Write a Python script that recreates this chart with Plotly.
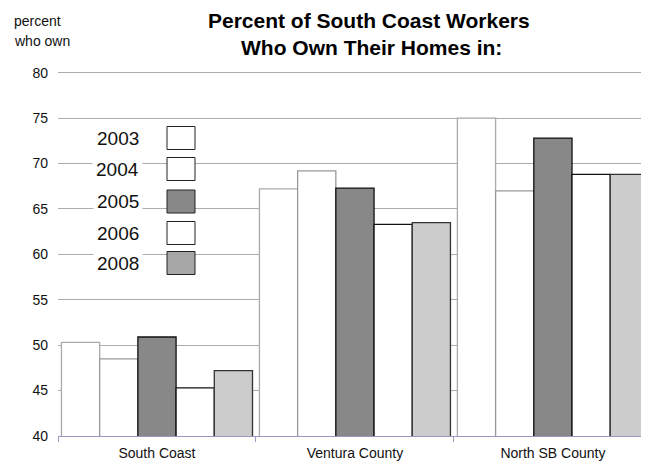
import plotly.graph_objects as go

# Data
regions = ["South Coast", "Ventura County", "North SB County"]
years = ["2003", "2004", "2005", "2006", "2008"]
pct_2003 = [50.3, 67.2, 75.0]
pct_2004 = [48.5, 69.2, 67.0]
pct_2005 = [50.9, 67.3, 72.8]
pct_2006 = [45.3, 63.3, 68.8]
pct_2008 = [47.2, 63.5, 68.8]
y_ticks = [40, 45, 50, 55, 60, 65, 70, 75, 80]

series = [pct_2003, pct_2004, pct_2005, pct_2006, pct_2008]
bar_fill = ["#ffffff", "#ffffff", "#888888", "#ffffff", "#cccccc"]
bar_edge = ["#aaaaaa", "#999999", "#111111", "#111111", "#333333"]
key_fill = ["#ffffff", "#ffffff", "#888888", "#ffffff", "#a6a6a6"]

W, H = 651, 464
# y range is padded a little above 80 so the top grid line is drawn inside the plot
Y_MIN, Y_MAX = 40, 80.3
PX_PER_UNIT = 363 / 40.0
L, R, B = 58, 10, 28
T = round(73 - (Y_MAX - 80) * PX_PER_UNIT)
PW, PH = W - L - R, H - T - B

NARROW = "Liberation Sans Narrow, Arial Narrow, Liberation Sans, Arial, sans-serif"
PLAIN = "Liberation Sans, Arial, sans-serif"


def px_x(px):
    """Page pixel column -> plot-area paper fraction."""
    return (px - L) / PW


def px_y(py):
    """Page pixel row -> plot-area paper fraction."""
    return (H - B - py) / PH


fig = go.Figure()
for yr, vals, fc, lc in zip(years, series, bar_fill, bar_edge):
    fig.add_trace(go.Bar(
        x=regions, y=vals, name=yr,
        marker=dict(color=fc, line=dict(color=lc, width=1.3)),
        showlegend=False,
    ))

fig.update_layout(
    template="none",
    width=W, height=H,
    margin=dict(l=L, r=R, t=T, b=B, autoexpand=False),
    paper_bgcolor="white", plot_bgcolor="white",
    barmode="group", bargap=0.035, bargroupgap=0,
    font=dict(family=NARROW, color="#111111", size=13),
    xaxis=dict(
        type="category", range=[-0.5, 2.445], automargin=False,
        showgrid=False, showline=True, linecolor="#9a9ac4", linewidth=1,
        ticks="outside", tickson="boundaries", ticklen=5, tickcolor="#9a9ac4",
        ticklabelstandoff=4,
        tickfont=dict(family=NARROW, size=14, color="#111111"),
        zeroline=False,
    ),
    yaxis=dict(
        range=[Y_MIN, Y_MAX], tickvals=y_ticks, automargin=False,
        showgrid=True, gridcolor="#acacac", gridwidth=1,
        showline=False, zeroline=False, ticks="",
        ticklabelstandoff=9,
        tickfont=dict(family=NARROW, size=14, color="#111111"),
    ),
)

annotations = [
    dict(text="<b>Percent of South Coast Workers</b>", x=px_x(369), y=px_y(20),
         xanchor="center", font=dict(family=NARROW, size=21, color="#000000")),
    dict(text="<b>Who Own Their Homes in:</b>", x=px_x(372), y=px_y(48),
         xanchor="center", font=dict(family=NARROW, size=21, color="#000000")),
    dict(text="percent", x=px_x(12), y=px_y(21), xanchor="left",
         font=dict(family=NARROW, size=14, color="#111111")),
    dict(text="who own", x=px_x(12), y=px_y(41), xanchor="left",
         font=dict(family=NARROW, size=14, color="#111111")),
]
for a in annotations:
    a.update(xref="paper", yref="paper", showarrow=False, yanchor="middle")

# Key: year labels on the left, colour boxes on the right
shapes = []
row_y = [138, 169, 201.5, 233, 263]
for yr, fc, cy in zip(years, key_fill, row_y):
    annotations.append(dict(
        text=yr, xref="paper", yref="paper", showarrow=False,
        x=px_x(143), y=px_y(cy), xanchor="right", yanchor="middle",
        font=dict(family=PLAIN, size=19, color="#111111"),
        bgcolor="white", borderpad=3,
    ))
    shapes.append(dict(
        type="rect", xref="paper", yref="paper",
        x0=px_x(167), x1=px_x(195),
        y0=px_y(cy + 11.5), y1=px_y(cy - 11.5),
        fillcolor=fc, line=dict(color="#222222", width=1), layer="above",
    ))

fig.update_layout(annotations=annotations, shapes=shapes)
fig.write_html("out.html")
